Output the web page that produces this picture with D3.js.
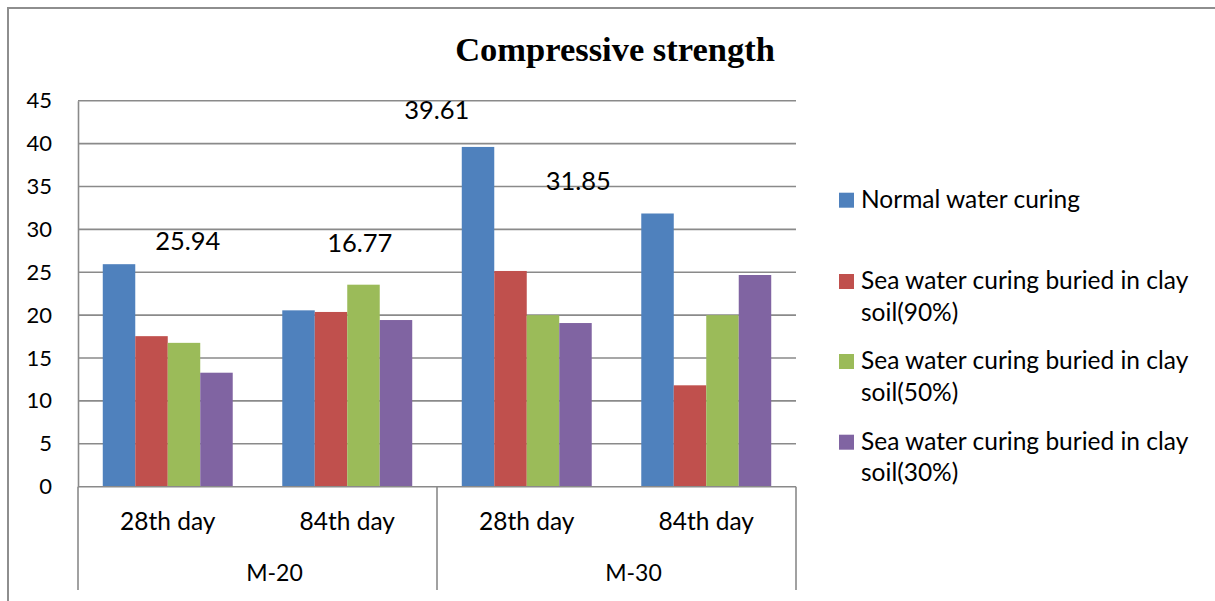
<!DOCTYPE html>
<html>
<head>
<meta charset="utf-8">
<script src="https://cdn.jsdelivr.net/npm/d3@7/dist/d3.min.js"></script>
<style>
  html, body { margin: 0; padding: 0; background: #fff; }
  svg { display: block; }
</style>
</head>
<body>
<svg id="chart" width="1215" height="601"></svg>
<script>
// ---- Data ----
const mixes = ["M-20", "M-30"];
const ages = ["28th day", "84th day"];
const seriesNames = [
  "Normal water curing",
  "Sea water curing buried in clay soil(90%)",
  "Sea water curing buried in clay soil(50%)",
  "Sea water curing buried in clay soil(30%)"
];
const normalWater = [25.94, 20.56, 39.61, 31.85];
const seaClay90   = [17.55, 20.37, 25.15, 11.82];
const seaClay50   = [16.77, 23.55, 20.0, 20.0];
const seaClay30   = [13.29, 19.43, 19.08, 24.68];
const yTicks = [0, 5, 10, 15, 20, 25, 30, 35, 40, 45];

const seriesColors = ["#4F81BD", "#C0504D", "#9BBB59", "#8064A2"];

// categories: each mix repeated for each age
const categories = [];
mixes.forEach(m => ages.forEach(a => categories.push({ mix: m, age: a, key: m + "|" + a })));
const seriesValues = [normalWater, seaClay90, seaClay50, seaClay30];

// ---- Layout ----
const svg = d3.select("#chart");
const W = 1215, H = 601;
const plot = { left: 78, right: 796, top: 100.7, bottom: 486.7 };
const FONT = "Lato, 'Open Sans', sans-serif";
const gridColor = "#8a8a8a";

// chart frame
svg.append("path")
  .attr("d", `M8,${H} L8,8 L${W},8`)
  .attr("fill", "none")
  .attr("stroke", "#8e8e8e")
  .attr("stroke-width", 2);

// title
svg.append("text")
  .attr("x", 615)
  .attr("y", 61)
  .attr("text-anchor", "middle")
  .attr("font-family", "'Liberation Serif', 'Times New Roman', serif")
  .attr("font-weight", "bold")
  .attr("font-size", 34.5)
  .attr("fill", "#000")
  .text("Compressive strength");

// scales
const y = d3.scaleLinear().domain([0, 45]).range([plot.bottom, plot.top]);
const x0 = d3.scaleBand().domain(categories.map(c => c.key)).range([plot.left, plot.right]).padding(0);
// bars of a cluster fill ~72% of each category slot
const clusterPad = x0.bandwidth() * 0.138;
const x1 = d3.scaleBand().domain(d3.range(seriesNames.length))
  .range([clusterPad, x0.bandwidth() - clusterPad]).padding(0);

// gridlines
svg.append("g")
  .selectAll("line")
  .data(yTicks.filter(t => t > 0))
  .join("line")
  .attr("x1", plot.left).attr("x2", plot.right)
  .attr("y1", d => y(d)).attr("y2", d => y(d))
  .attr("stroke", gridColor)
  .attr("stroke-width", 1.6);

// y axis
const yAxis = svg.append("g")
  .attr("transform", `translate(${plot.left},0)`)
  .call(d3.axisLeft(y).tickValues(yTicks).tickSize(0).tickPadding(26));
yAxis.select(".domain").attr("stroke", gridColor).attr("stroke-width", 1.6);
yAxis.selectAll("text")
  .attr("font-family", FONT)
  .attr("font-size", 22)
  .attr("fill", "#000");

// bars
const barGroups = svg.append("g")
  .selectAll("g")
  .data(categories)
  .join("g")
  .attr("transform", d => `translate(${x0(d.key)},0)`);

barGroups.selectAll("rect")
  .data((d, ci) => seriesValues.map((vals, si) => ({ si, v: vals[ci] })))
  .join("rect")
  .attr("x", d => x1(d.si))
  .attr("width", x1.bandwidth())
  .attr("y", d => y(d.v))
  .attr("height", d => y(0) - y(d.v))
  .attr("fill", d => seriesColors[d.si]);

// x axis baseline
svg.append("line")
  .attr("x1", plot.left).attr("x2", plot.right)
  .attr("y1", y(0)).attr("y2", y(0))
  .attr("stroke", gridColor).attr("stroke-width", 1.6);

// group dividers under the axis
const mixEdges = mixes.map(m => x0(m + "|" + ages[0])).concat([plot.right]);
svg.append("g")
  .selectAll("line")
  .data(mixEdges)
  .join("line")
  .attr("x1", d => d).attr("x2", d => d)
  .attr("y1", y(0)).attr("y2", 590)
  .attr("stroke", gridColor).attr("stroke-width", 1.6);

// age labels
svg.append("g")
  .selectAll("text")
  .data(categories)
  .join("text")
  .attr("x", d => x0(d.key) + x0.bandwidth() / 2)
  .attr("y", 530)
  .attr("text-anchor", "middle")
  .attr("font-family", FONT)
  .attr("font-size", 24.5)
  .attr("fill", "#000")
  .text(d => d.age);

// mix labels
svg.append("g")
  .selectAll("text")
  .data(mixes)
  .join("text")
  .attr("x", m => (x0(m + "|" + ages[0]) + x0(m + "|" + ages[ages.length - 1]) + x0.bandwidth()) / 2 + 17)
  .attr("y", 581)
  .attr("text-anchor", "middle")
  .attr("font-family", FONT)
  .attr("font-size", 23)
  .attr("fill", "#000")
  .text(m => m);

// value callouts, placed beside the bars they describe
const callouts = [
  { series: 0, cat: 0, dx: 20, dy: -14 },
  { series: 2, cat: 0, dx: 192, dy: -91 },
  { series: 0, cat: 2, dx: -90, dy: -27.6 },
  { series: 0, cat: 3, dx: -128, dy: -23 }
];
svg.append("g")
  .selectAll("text")
  .data(callouts)
  .join("text")
  .attr("x", d => x0(categories[d.cat].key) + x0.bandwidth() / 2 + d.dx)
  .attr("y", d => y(seriesValues[d.series][d.cat]) + d.dy)
  .attr("text-anchor", "middle")
  .attr("font-family", FONT)
  .attr("font-size", 25.5)
  .attr("fill", "#000")
  .text(d => seriesValues[d.series][d.cat].toFixed(2));

// legend
const legendRows = [
  { lines: ["Normal water curing"], base: 207.7 },
  { lines: ["Sea water curing buried in clay", "soil(90%)"], base: 289 },
  { lines: ["Sea water curing buried in clay", "soil(50%)"], base: 369 },
  { lines: ["Sea water curing buried in clay", "soil(30%)"], base: 449.7 }
];
const legend = svg.append("g")
  .selectAll("g")
  .data(legendRows)
  .join("g");
legend.append("rect")
  .attr("x", 839)
  .attr("y", d => d.base - 15)
  .attr("width", 15)
  .attr("height", 15)
  .attr("fill", (d, i) => seriesColors[i]);
legend.append("text")
  .attr("font-family", FONT)
  .attr("font-size", 24.5)
  .attr("fill", "#000")
  .selectAll("tspan")
  .data(d => d.lines.map((t, k) => ({ t, yy: d.base + k * 31.7 })))
  .join("tspan")
  .attr("x", 861)
  .attr("y", d => d.yy)
  .text(d => d.t);
</script>
</body>
</html>
